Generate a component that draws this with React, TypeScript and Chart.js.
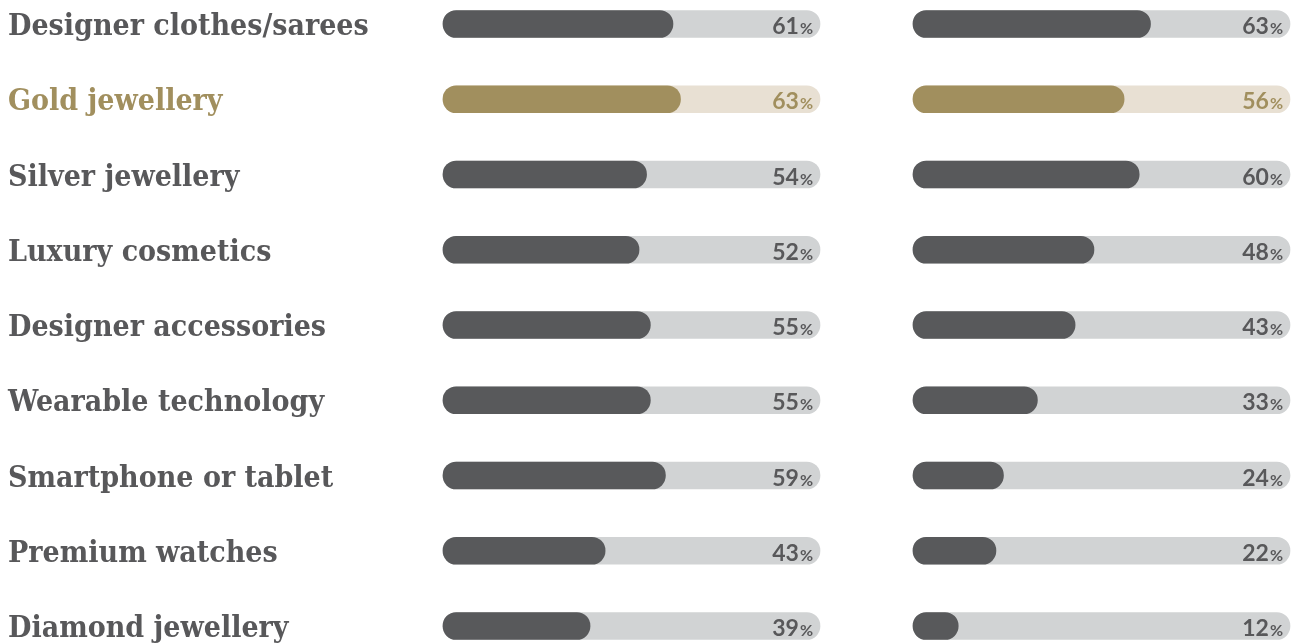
import React, { useEffect, useRef } from "react";
import { Chart, registerables } from "chart.js";

Chart.register(...registerables);

const categories = [
  "Designer clothes/sarees",
  "Gold jewellery",
  "Silver jewellery",
  "Luxury cosmetics",
  "Designer accessories",
  "Wearable technology",
  "Smartphone or tablet",
  "Premium watches",
  "Diamond jewellery",
];
const leftValues = [61, 63, 54, 52, 55, 55, 59, 43, 39];
const rightValues = [63, 56, 60, 48, 43, 33, 24, 22, 12];
const highlightCategory = "Gold jewellery";
const scaleMax = 100;

const GRAY_TEXT = "#58585a";
const GOLD = "#a18f5e";
const GOLD_TRACK = "#e8e0d3";
const DARK = "#58595b";
const TRACK = "#d1d3d4";

const LABEL_FONT = "'DejaVu Serif Condensed', 'DejaVu Serif', serif";
const VALUE_FONT = "Lato, 'Open Sans', sans-serif";

const valuePlugin = {
  id: "valueLabels",
  afterDatasetsDraw(chart: any, _args: any, opts: any) {
    const ctx = chart.ctx;
    const xScale = chart.scales.x;
    const yScale = chart.scales.y;
    const values: number[] = chart.data.datasets[0].data;
    const xEnd = xScale.getPixelForValue(scaleMax) - 7;
    ctx.save();
    values.forEach((v, i) => {
      const yc = yScale.getPixelForValue(i);
      const color = categories[i] === highlightCategory ? GOLD : GRAY_TEXT;
      ctx.fillStyle = color;
      ctx.textBaseline = "alphabetic";
      ctx.textAlign = "right";
      ctx.font = `bold 16px ${VALUE_FONT}`;
      ctx.fillText("%", xEnd, yc + 10);
      const pw = ctx.measureText("%").width;
      ctx.font = `bold 23px ${VALUE_FONT}`;
      ctx.fillText(String(v), xEnd - pw - 1, yc + 10);
      if (opts && opts.showLabels) {
        ctx.textAlign = "left";
        ctx.font = `bold 30px ${LABEL_FONT}`;
        ctx.fillText(String(chart.data.labels[i]), 8, yc + 11);
      }
    });
    ctx.restore();
  },
};

function makeConfig(values: number[], showLabels: boolean, padding: any): any {
  const hi = categories.indexOf(highlightCategory);
  return {
    type: "bar",
    data: {
      labels: categories,
      datasets: [
        {
          data: values,
          backgroundColor: categories.map((_, i) => (i === hi ? GOLD : DARK)),
          borderRadius: 14,
          borderSkipped: false,
          barThickness: 27,
          grouped: false,
          clip: false,
          order: 0,
        },
        {
          data: categories.map(() => scaleMax),
          backgroundColor: categories.map((_, i) => (i === hi ? GOLD_TRACK : TRACK)),
          borderRadius: 14,
          borderSkipped: false,
          barThickness: 27,
          grouped: false,
          clip: false,
          order: 1,
        },
      ],
    },
    options: {
      indexAxis: "y",
      animation: false,
      responsive: false,
      layout: { padding },
      plugins: {
        legend: { display: false },
        tooltip: { enabled: false },
        valueLabels: { showLabels },
      },
      scales: {
        x: { min: 0, max: scaleMax, display: false },
        y: { offset: false, display: false },
      },
    },
    plugins: [valuePlugin],
  };
}

function BarChart({ values, showLabels, width, padding }: any) {
  const ref = useRef<HTMLCanvasElement>(null);
  useEffect(() => {
    const chart = new Chart(ref.current as HTMLCanvasElement, makeConfig(values, showLabels, padding));
    return () => chart.destroy();
  }, []);
  return <canvas ref={ref} width={width} height={644} style={{ display: "block" }} />;
}

export default function App() {
  return (
    <div style={{ position: "absolute", left: 0, top: 0, width: 1296, height: 644, background: "#fff" }}>
      <div style={{ position: "absolute", left: 0, top: 0 }}>
        <BarChart
          values={leftValues}
          showLabels={true}
          width={840}
          padding={{ left: 443, right: 20, top: 24, bottom: 18 }}
        />
      </div>
      <div style={{ position: "absolute", left: 900, top: 0 }}>
        <BarChart
          values={rightValues}
          showLabels={false}
          width={396}
          padding={{ left: 13, right: 6, top: 24, bottom: 18 }}
        />
      </div>
    </div>
  );
}
